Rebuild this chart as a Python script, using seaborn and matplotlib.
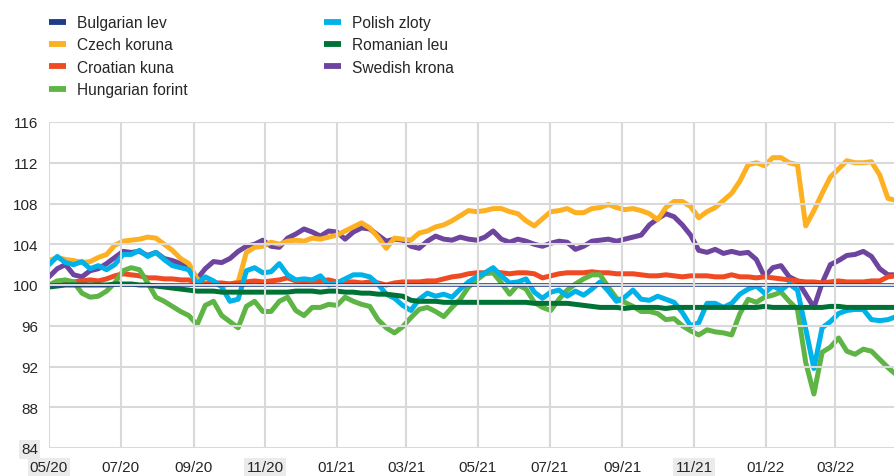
## bilateral exchange rates against the euro, index ##

import matplotlib
matplotlib.use("Agg")
import matplotlib.pyplot as plt
import matplotlib.dates as mdates
from matplotlib.lines import Line2D
import seaborn as sns
import pandas as pd


# weekly observations, 1 May 2020 onwards
weeks = pd.date_range("2020-05-01", periods=104, freq="7D")

bulgarian_dates = ["2020-05-01", "2022-04-22"]
bulgarian = [100.0, 100.0]

czech = [102.4, 102.7, 102.5, 102.4, 102.2, 102.3, 102.7, 103.0, 103.9, 104.3,
         104.4, 104.5, 104.7, 104.6, 104.0, 103.4, 102.6, 102.1, 100.6, 100.2,
         100.3, 99.9, 100.1, 100.3, 103.2, 103.7, 103.8, 104.2, 104.0, 104.3,
         104.4, 104.3, 104.6, 104.5, 104.7, 104.9, 105.3, 105.7, 106.1, 105.6,
         104.7, 103.6, 104.6, 104.5, 104.4, 105.1, 105.3, 105.7, 105.9, 106.3,
         106.8, 107.3, 107.2, 107.3, 107.5, 107.5, 107.2, 107.0, 106.3, 105.8,
         106.5, 107.2, 107.3, 107.5, 107.1, 107.1, 107.5, 107.6, 107.9, 107.6,
         107.4, 107.5, 107.3, 107.0, 106.4, 107.6, 108.2, 108.2, 107.7, 106.6,
         107.2, 107.6, 108.3, 109.0, 110.2, 111.8, 112.0, 111.7, 112.5, 112.5,
         112.0, 111.8, 105.8, 107.3, 109.0, 110.6, 111.4, 112.2, 112.0, 112.0,
         112.1, 110.8, 108.5, 108.3]

croatian = [100.0, 100.1, 100.2, 100.3, 100.4, 100.5, 100.4, 100.6, 100.9, 101.1,
            101.0, 100.9, 100.7, 100.7, 100.6, 100.6, 100.5, 100.5, 100.2, 100.1,
            100.2, 100.2, 100.1, 100.2, 100.3, 100.4, 100.3, 100.4, 100.5, 100.7,
            100.4, 100.3, 100.4, 100.4, 100.5, 100.3, 100.3, 100.3, 100.2, 100.3,
            100.2, 100.0, 100.2, 100.3, 100.3, 100.3, 100.4, 100.4, 100.6, 100.8,
            100.9, 101.1, 101.2, 101.2, 101.3, 101.2, 101.1, 101.2, 101.2, 101.1,
            100.7, 100.9, 101.1, 101.2, 101.2, 101.2, 101.3, 101.2, 101.2, 101.1,
            101.1, 101.1, 101.0, 100.9, 100.9, 101.0, 100.9, 100.8, 100.9, 100.9,
            100.9, 100.8, 100.8, 101.0, 100.8, 100.8, 100.7, 100.8, 100.7, 100.6,
            100.5, 100.4, 100.3, 100.3, 100.2, 100.3, 100.4, 100.3, 100.3, 100.3,
            100.4, 100.4, 100.8, 100.9]

hungarian = [100.0, 100.4, 100.5, 100.3, 99.2, 98.8, 98.9, 99.4, 100.2, 101.4,
             101.7, 101.5, 100.2, 98.8, 98.4, 97.9, 97.4, 97.0, 96.1, 98.0,
             98.4, 97.0, 96.4, 95.8, 97.9, 98.4, 97.4, 97.4, 98.4, 98.8,
             97.5, 97.0, 97.8, 97.8, 98.1, 98.0, 98.8, 98.4, 98.1, 97.9,
             96.6, 95.8, 95.3, 95.9, 96.8, 97.6, 97.8, 97.4, 96.9, 97.8,
             98.6, 99.8, 100.5, 101.1, 101.2, 100.2, 99.1, 100.0, 99.6, 98.3,
             97.8, 97.5, 98.6, 99.5, 100.1, 100.6, 101.0, 101.0, 99.8, 98.7,
             98.3, 97.9, 97.4, 97.4, 97.2, 96.6, 96.7, 96.0, 95.5, 95.1,
             95.6, 95.4, 95.3, 95.1, 97.2, 98.6, 98.3, 98.8, 99.0, 99.3,
             98.4, 97.6, 92.4, 89.3, 93.4, 93.9, 94.8, 93.5, 93.2, 93.7,
             93.5, 92.7, 91.9, 91.2]

polish = [102.0, 102.8, 102.2, 102.0, 102.3, 101.6, 101.9, 101.5, 102.0, 103.0,
          103.0, 103.4, 102.8, 103.2, 102.5, 101.9, 101.7, 101.5, 100.1, 100.8,
          100.4, 99.8, 98.4, 98.6, 101.4, 101.7, 101.2, 101.3, 102.1, 101.0,
          100.5, 100.6, 100.5, 100.9, 100.0, 100.2, 100.6, 101.0, 101.0, 100.8,
          100.1, 99.1, 98.7, 98.0, 97.5, 98.6, 99.2, 98.9, 99.1, 98.8,
          99.6, 100.3, 100.8, 101.2, 101.7, 100.9, 100.2, 100.3, 100.6, 99.3,
          98.7, 99.3, 99.5, 98.9, 99.4, 99.0, 99.6, 100.3, 99.4, 98.4,
          98.8, 99.5, 98.6, 98.5, 98.9, 98.6, 98.3, 97.3, 96.0, 96.3,
          98.2, 98.2, 97.8, 98.2, 99.1, 99.6, 99.9, 99.2, 99.9, 99.5,
          100.1, 99.5, 95.7, 91.8, 95.8, 96.4, 97.2, 97.5, 97.6, 97.6,
          96.6, 96.5, 96.6, 96.9]

romanian = [99.8, 99.9, 100.0, 100.0, 100.0, 100.0, 100.0, 100.0, 100.1, 100.1,
            100.1, 100.0, 100.0, 99.9, 99.8, 99.7, 99.6, 99.5, 99.4, 99.4,
            99.4, 99.3, 99.3, 99.3, 99.3, 99.3, 99.3, 99.3, 99.3, 99.3,
            99.4, 99.4, 99.4, 99.3, 99.4, 99.4, 99.3, 99.3, 99.2, 99.2,
            99.1, 99.1, 99.0, 98.9, 98.5, 98.4, 98.4, 98.4, 98.3, 98.3,
            98.3, 98.3, 98.3, 98.3, 98.3, 98.3, 98.3, 98.3, 98.3, 98.2,
            98.2, 98.2, 98.2, 98.2, 98.1, 98.0, 97.9, 97.8, 97.8, 97.8,
            97.7, 97.8, 97.8, 97.8, 97.8, 97.7, 97.8, 97.8, 97.8, 97.8,
            97.8, 97.8, 97.8, 97.8, 97.8, 97.8, 97.8, 97.9, 97.8, 97.8,
            97.8, 97.8, 97.8, 97.8, 97.8, 97.9, 97.9, 97.8, 97.8, 97.8,
            97.8, 97.8, 97.8, 97.8]

swedish = [100.8, 101.6, 102.0, 101.0, 100.8, 101.4, 101.6, 102.1, 102.7, 103.3,
           103.2, 103.3, 102.9, 103.2, 102.6, 102.4, 102.1, 101.8, 100.6, 101.6,
           102.3, 102.2, 102.6, 103.3, 103.8, 104.0, 104.4, 103.8, 103.7, 104.6,
           105.0, 105.5, 105.2, 104.8, 105.3, 105.2, 104.5, 105.2, 105.6, 105.5,
           104.9, 104.3, 104.5, 104.4, 103.8, 103.6, 104.3, 104.8, 104.5, 104.4,
           104.7, 104.5, 104.4, 104.7, 105.3, 104.5, 104.2, 104.5, 104.3, 104.0,
           103.8, 104.1, 104.3, 104.2, 103.5, 103.8, 104.3, 104.4, 104.5, 104.3,
           104.5, 104.7, 104.9, 105.9, 106.5, 107.0, 106.7, 105.9, 104.9, 103.4,
           103.2, 103.5, 103.1, 103.3, 103.1, 103.2, 102.5, 100.8, 101.7, 101.9,
           100.8, 100.4, 99.1, 97.8, 100.2, 102.0, 102.4, 102.9, 103.0, 103.3,
           102.8, 101.6, 101.0, 101.0]

currencies = ["Bulgarian lev", "Czech koruna", "Croatian kuna", "Hungarian forint",
              "Polish zloty", "Romanian leu", "Swedish krona"]
colours = ["#1f3c88", "#fdb022", "#f04a23", "#5eb546",
           "#00b2e8", "#007236", "#6d459f"]
# drawing order (first = bottom)
draw_order = ["Swedish krona", "Czech koruna", "Croatian kuna", "Hungarian forint",
              "Polish zloty", "Romanian leu", "Bulgarian lev"]

ticks = ["2020-05-01", "2020-07-01", "2020-09-01", "2020-11-01", "2021-01-01",
         "2021-03-01", "2021-05-01", "2021-07-01", "2021-09-01", "2021-11-01",
         "2022-01-01", "2022-03-01"]
highlighted_ticks = ["05/20", "11/20", "11/21"]

series = {"Czech koruna": czech, "Croatian kuna": croatian,
          "Hungarian forint": hungarian, "Polish zloty": polish,
          "Romanian leu": romanian, "Swedish krona": swedish}

frames = [pd.DataFrame({"date": weeks, "value": v, "currency": k})
          for k, v in series.items()]
frames.append(pd.DataFrame({"date": pd.to_datetime(bulgarian_dates),
                            "value": bulgarian, "currency": "Bulgarian lev"}))
df = pd.concat(frames, ignore_index=True)

palette = dict(zip(currencies, colours))

sns.set_style("white")
plt.rcParams["font.family"] = ["Liberation Sans", "DejaVu Sans"]
text_colour = "#262626"

fig = plt.figure(figsize=(8.95, 4.77), dpi=100)
ax = fig.add_axes([49 / 895, 1 - 449 / 477, 846 / 895, 326 / 477])

for i, cur in enumerate(draw_order):
    sub = df[df["currency"] == cur]
    lw = 2.6 if cur == "Bulgarian lev" else 3.6
    sns.lineplot(data=sub, x="date", y="value", color=palette[cur], lw=lw,
                 ax=ax, legend=False, zorder=2 + i, solid_joinstyle="round")

ax.set_xlim(pd.Timestamp("2020-05-01"), pd.Timestamp("2022-04-21"))
ax.set_ylim(84, 116)
ax.set_yticks(range(84, 117, 4))
ax.set_xticks(pd.to_datetime(ticks))
ax.xaxis.set_major_formatter(mdates.DateFormatter("%m/%y"))
ax.set_xlabel("")
ax.set_ylabel("")

# grid sits on top of the lines, as in the original
ax.grid(True, color="#d9d9d9", lw=1.5)
ax.xaxis.set_zorder(20)
ax.yaxis.set_zorder(20)
for s in ax.spines.values():
    s.set_visible(False)

ax.tick_params(axis="both", length=0, labelsize=11, colors=text_colour)
ax.tick_params(axis="y", pad=8)
ax.tick_params(axis="x", pad=9)

fig.canvas.draw()
for lab in ax.get_xticklabels():
    if lab.get_text() in highlighted_ticks:
        lab.set_bbox(dict(facecolor="#ebebeb", edgecolor="none", pad=1.5))
for lab in ax.get_yticklabels():
    if lab.get_text() == "84":
        lab.set_bbox(dict(facecolor="#ebebeb", edgecolor="none", pad=1.5))

handles = [Line2D([0], [0], color=palette[c], lw=4.2, solid_capstyle="butt")
           for c in currencies]
fig.legend(handles, currencies, loc="upper left", ncol=2, frameon=False,
           bbox_to_anchor=(49 / 895, 1 - 16 / 477), borderaxespad=0,
           borderpad=0, fontsize=11.2, handlelength=1.1, handletextpad=0.72,
           columnspacing=8.75, labelspacing=0.48, labelcolor=text_colour)

fig.savefig("out.png", dpi=100)
